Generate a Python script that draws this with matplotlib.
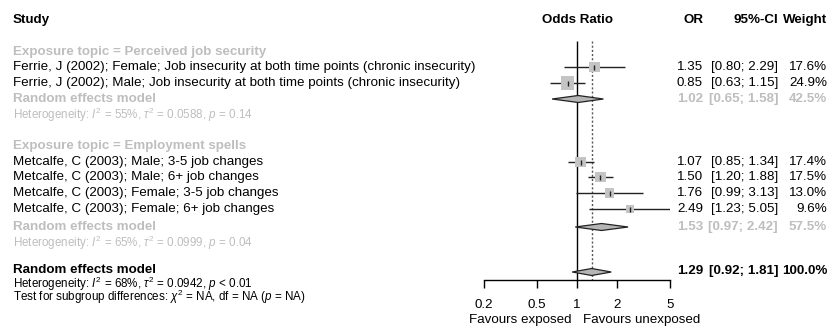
import matplotlib
matplotlib.use("Agg")
import matplotlib.pyplot as plt
import numpy as np

plt.rcParams['font.family'] = ['Liberation Sans', 'DejaVu Sans']
plt.rcParams['mathtext.fontset'] = 'custom'
plt.rcParams['mathtext.rm'] = 'Liberation Sans'
plt.rcParams['mathtext.it'] = 'Liberation Sans:italic'
plt.rcParams['mathtext.bf'] = 'Liberation Sans:bold'

# ---- data ----
study_labels = [
    "Ferrie, J (2002); Female; Job insecurity at both time points (chronic insecurity)",
    "Ferrie, J (2002); Male; Job insecurity at both time points (chronic insecurity)",
    "Metcalfe, C (2003); Male; 3-5 job changes",
    "Metcalfe, C (2003); Male; 6+ job changes",
    "Metcalfe, C (2003); Female; 3-5 job changes",
    "Metcalfe, C (2003); Female; 6+ job changes",
]
study_or = [1.35, 0.85, 1.07, 1.50, 1.76, 2.49]
study_lo = [0.80, 0.63, 0.85, 1.20, 0.99, 1.23]
study_hi = [2.29, 1.15, 1.34, 1.88, 3.13, 5.05]
study_w = [17.6, 24.9, 17.4, 17.5, 13.0, 9.6]
study_group = [0, 0, 1, 1, 1, 1]

group_labels = ["Exposure topic = Perceived job security",
                "Exposure topic = Employment spells"]
group_or = [1.02, 1.53]
group_lo = [0.65, 0.97]
group_hi = [1.58, 2.42]
group_w = [42.5, 57.5]
group_het = [r"Heterogeneity: $\mathit{I}^2$ = 55%, $\tau^2$ = 0.0588, $\mathit{p}$ = 0.14",
             r"Heterogeneity: $\mathit{I}^2$ = 65%, $\tau^2$ = 0.0999, $\mathit{p}$ = 0.04"]

overall_or = 1.29
overall_lo = 0.92
overall_hi = 1.81
overall_w = 100.0
overall_het = r"Heterogeneity: $\mathit{I}^2$ = 68%, $\tau^2$ = 0.0942, $\mathit{p}$ < 0.01"
subgroup_test = r"Test for subgroup differences: $\chi^2$ = NA, df = NA ($\mathit{p}$ = NA)"

xticks = [0.2, 0.5, 1, 2, 5]
xtick_labels = ["0.2", "0.5", "1", "2", "5"]

# ---- layout (pixels) ----
W, H = 830, 331
GRAY = "#bebebe"
FS = 9.6
FS_HET = 8.4

fig = plt.figure(figsize=(W / 100, H / 100), dpi=100)
axt = fig.add_axes([0, 0, 1, 1])
axt.set_xlim(0, W)
axt.set_ylim(H, 0)
axt.axis("off")

x0px, x1px = 484, 670
axf = fig.add_axes([x0px / W, 0, (x1px - x0px) / W, 1])
axf.set_xscale("log")
axf.set_xlim(0.2, 5)
axf.set_ylim(H, 0)
axf.patch.set_alpha(0)
for s in ["top", "left", "right"]:
    axf.spines[s].set_visible(False)
axf.set_yticks([])
axf.minorticks_off()
axis_y = 280
axf.spines["bottom"].set_position(("data", axis_y))
axf.spines["bottom"].set_linewidth(1.0)
axf.set_xticks(xticks)
axf.set_xticklabels(xtick_labels, fontsize=FS)
axf.tick_params(axis="x", direction="out", length=5.5, width=1.0, pad=8)
axf.tick_params(axis="x", which="minor", length=0)

# row positions
row_header = 20
rows_group = [[67, 83], [162, 177, 193, 209]]
y_grp_label = [52, 146]
y_grp_re = [99, 227]
y_grp_het = [115, 243]
y_overall = 270
y_overall_het = 283.5
y_test = 297

x_study = 13
x_or = 703
x_ci = 778
x_w = 827

# headers
axt.text(x_study, row_header, "Study", fontsize=FS, fontweight="bold", va="center")
axt.text(577, row_header, "Odds Ratio", fontsize=FS, fontweight="bold", va="center", ha="center")
axt.text(x_or, row_header, "OR", fontsize=FS, fontweight="bold", va="center", ha="right")
axt.text(x_ci, row_header, "95%-CI", fontsize=FS, fontweight="bold", va="center", ha="right")
axt.text(x_w, row_header, "Weight", fontsize=FS, fontweight="bold", va="center", ha="right")

def fmt_row(y, o, lo, hi, w, color, weight):
    axt.text(x_or, y, f"{o:.2f}", fontsize=FS, va="center", ha="right", color=color, fontweight=weight)
    axt.text(x_ci, y, f"[{lo:.2f}; {hi:.2f}]", fontsize=FS, va="center", ha="right", color=color, fontweight=weight)
    axt.text(x_w, y, f"{w:.1f}%", fontsize=FS, va="center", ha="right", color=color, fontweight=weight)

def diamond(y, o, lo, hi, half_h=3.5):
    xs = [lo, o, hi, o, lo]
    ys = [y, y - half_h, y, y + half_h, y]
    axf.fill(xs, ys, facecolor="#b5b5b5", edgecolor="#222222", linewidth=0.9, zorder=4)

# vertical reference lines
axf.vlines(1, 41, axis_y, color="black", linewidth=1.0, zorder=2)
axf.vlines(overall_or, 41, axis_y, color="#555555", linewidth=1.0, linestyles=(0, (1.5, 1.5)), zorder=2)

# studies
base = 2.62  # px per sqrt(weight)
trans = axf.transData
counters = [0, 0]
for i in range(len(study_labels)):
    g = study_group[i]
    y = rows_group[g][counters[g]]
    counters[g] += 1
    axt.text(x_study, y, study_labels[i], fontsize=FS, va="center")
    fmt_row(y, study_or[i], study_lo[i], study_hi[i], study_w[i], "black", "normal")
    axf.hlines(y, study_lo[i], study_hi[i], color="#222222", linewidth=1.0, zorder=3)
    side = base * np.sqrt(study_w[i])
    cx = trans.transform((study_or[i], y))[0]
    lx = trans.inverted().transform((cx - side / 2, 0))[0]
    rx = trans.inverted().transform((cx + side / 2, 0))[0]
    axf.fill([lx, rx, rx, lx], [y - side / 2, y - side / 2, y + side / 2, y + side / 2],
             facecolor="#c4c4c4", edgecolor="none", zorder=3.5)
    axf.vlines(study_or[i], y - 2.5, y + 2.5, color="#222222", linewidth=1.0, zorder=4)

# groups
for g in range(2):
    axt.text(x_study, y_grp_label[g], group_labels[g], fontsize=FS, fontweight="bold", va="center", color=GRAY)
    axt.text(x_study, y_grp_re[g], "Random effects model", fontsize=FS, fontweight="bold", va="center", color=GRAY)
    axt.text(x_study, y_grp_het[g], group_het[g], fontsize=FS_HET, va="center", color=GRAY)
    fmt_row(y_grp_re[g], group_or[g], group_lo[g], group_hi[g], group_w[g], GRAY, "bold")
    diamond(y_grp_re[g], group_or[g], group_lo[g], group_hi[g])

# overall
axt.text(x_study, y_overall, "Random effects model", fontsize=FS, fontweight="bold", va="center")
fmt_row(y_overall + 1, overall_or, overall_lo, overall_hi, overall_w, "black", "bold")
diamond(272, overall_or, overall_lo, overall_hi)
axt.text(x_study, y_overall_het, overall_het, fontsize=FS_HET, va="center")
axt.text(x_study, y_test, subgroup_test, fontsize=FS_HET, va="center")

# favours labels
axt.text(571, 320, "Favours exposed", fontsize=FS, va="center", ha="right")
axt.text(583, 320, "Favours unexposed", fontsize=FS, va="center", ha="left")

fig.savefig("out.png", dpi=100)
